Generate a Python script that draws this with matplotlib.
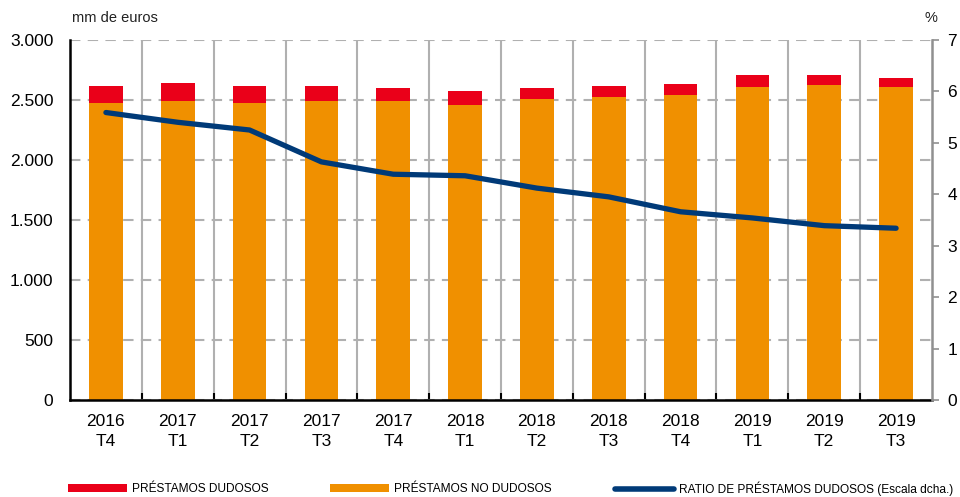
import matplotlib
matplotlib.use("Agg")
import matplotlib.pyplot as plt
from matplotlib.ticker import FuncFormatter, MultipleLocator
from matplotlib.patches import Patch
from matplotlib.lines import Line2D
import numpy as np

plt.rcParams['font.family'] = ['Liberation Sans', 'DejaVu Sans']

# Datos
trimestres = ["2016\nT4", "2017\nT1", "2017\nT2", "2017\nT3", "2017\nT4", "2018\nT1",
              "2018\nT2", "2018\nT3", "2018\nT4", "2019\nT1", "2019\nT2", "2019\nT3"]
no_dudosos = [2475, 2494, 2475, 2494, 2492, 2458, 2508, 2525, 2542, 2608, 2625, 2608]
dudosos = [145, 145, 145, 126, 108, 117, 92, 92, 95, 100, 83, 75]
ratio = [5.59, 5.40, 5.25, 4.63, 4.39, 4.36, 4.12, 3.95, 3.66, 3.54, 3.39, 3.34]

ROJO = "#ea0019"
NARANJA = "#f09000"
AZUL = "#003a78"
GRIS = "#b0b0b0"

fig = plt.figure(figsize=(9.6, 4.97), dpi=100)
ax = fig.add_axes([70/960, 97/497, 862/960, 360/497])
x = np.arange(len(trimestres))

ax.bar(x, no_dudosos, width=0.47, color=NARANJA, zorder=2)
ax.bar(x, dudosos, width=0.47, bottom=no_dudosos, color=ROJO, zorder=2)

ax.set_xlim(-0.5, len(trimestres) - 0.5)
ax.set_ylim(0, 3000)
ax.yaxis.set_major_locator(MultipleLocator(500))
ax.yaxis.set_major_formatter(FuncFormatter(lambda v, p: f"{int(v):,}".replace(",", ".")))
ax.set_xticks(x)
ax.set_xticklabels(trimestres, fontsize=12.5, linespacing=1.45)
ax.set_xticks(np.arange(0.5, len(trimestres) - 0.5), minor=True)
ax.tick_params(axis="x", which="major", length=0, pad=10)
ax.tick_params(axis="x", which="minor", direction="in", length=5, width=1.5, color="black")
ax.tick_params(axis="y", length=0, labelsize=12.5, pad=12)

# Rejilla: horizontales discontinuas, verticales entre trimestres
ax.grid(axis="y", which="major", color=GRIS, linestyle=(0, (5, 3.5)), linewidth=1.5, zorder=1)
ax.grid(axis="x", which="minor", color=GRIS, linestyle="-", linewidth=1.5, zorder=1)
ax.set_axisbelow(True)

for s in ["top", "right"]:
    ax.spines[s].set_visible(False)
ax.spines["left"].set_linewidth(1.8)
ax.spines["bottom"].set_linewidth(1.8)

# Eje derecho: ratio
ax2 = ax.twinx()
ax2.plot(x, ratio, color=AZUL, linewidth=3.8, solid_capstyle="round", solid_joinstyle="round", zorder=3)
ax2.set_ylim(0, 7)
ax2.yaxis.set_major_locator(MultipleLocator(1))
ax2.tick_params(axis="y", direction="out", length=5, width=1.2, color="#909090", labelsize=12.5, pad=6)
for s in ["top", "left", "bottom"]:
    ax2.spines[s].set_visible(False)
ax2.spines["right"].set_color("#909090")
ax2.spines["right"].set_linewidth(1.8)

fig.text(72/960, 1 - 18/497, "mm de euros", fontsize=10.5, va="center", ha="left", color="#222222")
fig.text(931/960, 1 - 18/497, "%", fontsize=10.5, va="center", ha="center", color="#222222")

# Leyenda: una entrada por posición, como en el original
handles = [Patch(facecolor=ROJO, edgecolor="none"),
           Patch(facecolor=NARANJA, edgecolor="none"),
           Line2D([], [], color=AZUL, linewidth=4, solid_capstyle="round")]
labels = ["PRÉSTAMOS DUDOSOS", "PRÉSTAMOS NO DUDOSOS", "RATIO DE PRÉSTAMOS DUDOSOS (Escala dcha.)"]
posx = [68, 330, 615]
for h, l, px in zip(handles, labels, posx):
    fig.legend([h], [l], loc="center left", bbox_to_anchor=(px/960, 1 - 489/497),
               frameon=False, fontsize=8.6, handlelength=4.9, handleheight=0.65,
               handletextpad=0.45, borderpad=0, borderaxespad=0)

fig.savefig("out.png", dpi=100)
plt.close()
